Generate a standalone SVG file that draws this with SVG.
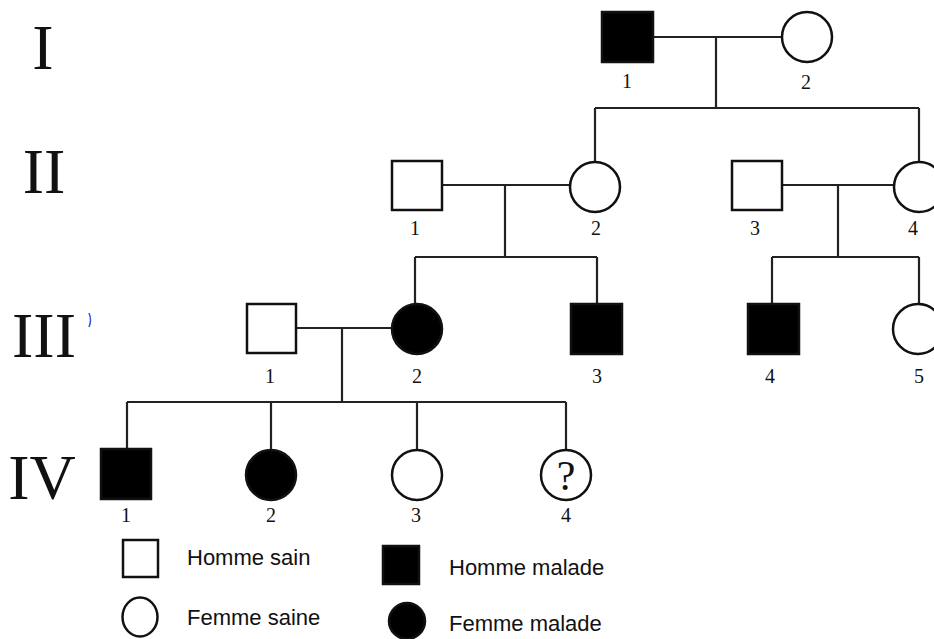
<svg xmlns="http://www.w3.org/2000/svg" width="934" height="639" viewBox="0 0 934 639">
<style>
.sym{stroke:#111;stroke-width:2.5;fill:#fff}
.aff{stroke:#111;stroke-width:2.5;fill:#000}
.ln{stroke:#222;stroke-width:2.2;fill:none}
.gen{font-family:"Liberation Serif",serif;font-size:64px;fill:#111;text-anchor:middle}
.num{font-family:"Liberation Serif",serif;font-size:20px;fill:#111;text-anchor:middle}
.leg{font-family:"Liberation Sans",Arial,sans-serif;font-size:22px;fill:#111}
</style>
<rect width="934" height="639" fill="#fff"/>
<g id="generations">
<text class="gen" x="43" y="69">I</text>
<text class="gen" x="44" y="193">II</text>
<text class="gen" x="44" y="357">III</text>
<text class="gen" x="42" y="499">IV</text>
<path d="M89 313 q3 7 0 14" stroke="#3355dd" stroke-width="1.5" fill="none"/>
</g>
<g id="connectors">
<path class="ln" d="M653 37H782M716 37V108M595 108H919M595 108V162M919 108V162"/>
<path class="ln" d="M442 185H570M505 185V257M415 257H597M415 257V304M597 257V304"/>
<path class="ln" d="M782 185H894M838 185V257M772 257H919M772 257V304M919 257V304"/>
<path class="ln" d="M296 328H392M342 328V402M127 402H566M127 402V449M271 402V450M417 402V450M566 402V450"/>
</g>
<g id="I-1"><rect class="aff" x="602" y="12" width="51" height="50"/><text class="num" x="627" y="88">1</text></g>
<g id="I-2"><circle class="sym" cx="807" cy="37" r="25"/><text class="num" x="806" y="89">2</text></g>
<g id="II-1"><rect class="sym" x="392" y="161" width="50" height="49"/><text class="num" x="415" y="235">1</text></g>
<g id="II-2"><circle class="sym" cx="595" cy="187" r="25"/><text class="num" x="596" y="235">2</text></g>
<g id="II-3"><rect class="sym" x="732" y="161" width="50" height="49"/><text class="num" x="755" y="235">3</text></g>
<g id="II-4"><circle class="sym" cx="919" cy="187" r="25"/><text class="num" x="913" y="235">4</text></g>
<g id="III-1"><rect class="sym" x="247" y="304" width="49" height="49"/><text class="num" x="270" y="383">1</text></g>
<g id="III-2"><circle class="aff" cx="417" cy="329" r="25"/><text class="num" x="417" y="383">2</text></g>
<g id="III-3"><rect class="aff" x="571" y="304" width="51" height="50"/><text class="num" x="597" y="383">3</text></g>
<g id="III-4"><rect class="aff" x="748" y="304" width="51" height="50"/><text class="num" x="770" y="383">4</text></g>
<g id="III-5"><circle class="sym" cx="918" cy="329" r="25"/><text class="num" x="919" y="383">5</text></g>
<g id="IV-1"><rect class="aff" x="101" y="449" width="50" height="50"/><text class="num" x="126" y="522">1</text></g>
<g id="IV-2"><circle class="aff" cx="271" cy="475" r="25"/><text class="num" x="271" y="522">2</text></g>
<g id="IV-3"><circle class="sym" cx="417" cy="475" r="25"/><text class="num" x="416" y="522">3</text></g>
<g id="IV-4"><circle class="sym" cx="566" cy="475" r="25"/><text x="566" y="490" style="font-family:'Liberation Serif',serif;font-size:42px;fill:#111;text-anchor:middle">?</text><text class="num" x="566" y="522">4</text></g>
<g id="legend">
<rect class="sym" x="123" y="540" width="35" height="37" stroke-width="2"/>
<text class="leg" x="187" y="565">Homme sain</text>
<ellipse class="sym" cx="140" cy="617" rx="17.5" ry="19.5" stroke-width="2"/>
<text class="leg" x="187" y="625">Femme saine</text>
<rect class="aff" x="383" y="546" width="36" height="38"/>
<text class="leg" x="449" y="575">Homme malade</text>
<ellipse class="aff" cx="407" cy="621" rx="18" ry="18"/>
<text class="leg" x="449" y="631">Femme malade</text>
</g>
</svg>
